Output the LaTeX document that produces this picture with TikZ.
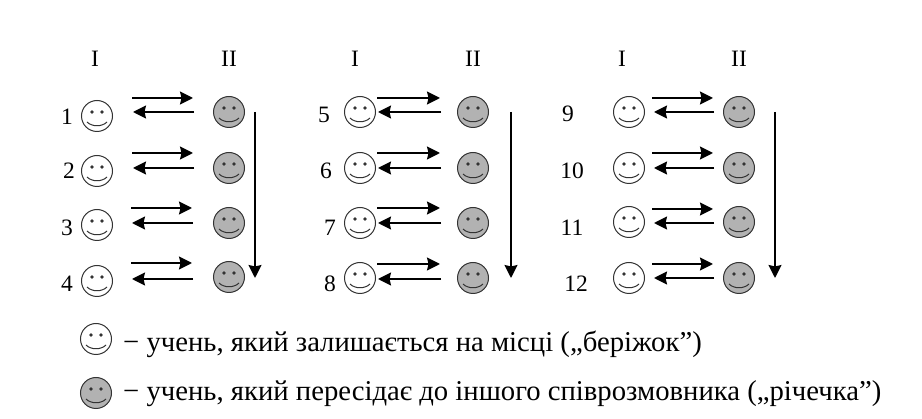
\documentclass[tikz,border=0pt]{standalone}
\usepackage{fontspec}
\setmainfont{Liberation Serif}
\usetikzlibrary{arrows.meta}

\tikzset{
	smile/.style={circle, draw=black!80, line width=1pt, minimum size=31pt, inner sep=0pt,
		path picture={
			\fill[black!80] ([shift={(-5pt,4pt)}]path picture bounding box.center) circle (1.8pt);
			\fill[black!80] ([shift={(5pt,4pt)}]path picture bounding box.center) circle (1.8pt);
			\draw[black!80, line width=1pt] ([shift={(-10pt,-6pt)}]path picture bounding box.center)
			.. controls +(5pt,-5pt) and +(-5pt,-5pt) .. ([shift={(10pt,-6pt)}]path picture bounding box.center);
		}},
	whiteface/.style={smile, fill=white},
	grayface/.style={smile, fill=black!30},
	flow/.style={->, line width=1.8pt},
	label/.style={font=\fontsize{23.5}{28}\selectfont, inner sep=0pt},
	legendtext/.style={font=\fontsize{28.7}{34}\selectfont, inner sep=0pt, anchor=base west}
}

\begin{document}
\begin{tikzpicture}[x=1pt, y=-1pt, >={Stealth[length=13pt,width=13pt,inset=1.5pt]}]
\useasboundingbox (0,0) rectangle (922,419);

%----------------------------
% Column headings
%----------------------------
\foreach \name/\x/\txt in {a/95/I,b/229/II,c/355/I,d/473/II,e/622/I,f/739/II}
	\node[label] (head\name) at (\x,59) {\txt};

%----------------------------
% Rows: number, white face, gray face, the two arrows
%----------------------------
\foreach \n/\nx/\ny/\wx/\wy/\gx/\gy/\ax/\bx/\cx/\dx/\ra/\rb in {
	1/67/117/97/116/229/112/132/193/133/194/98/112,
	2/69/171/97/171/229/168/132/193/133/194/153/168,
	3/67/228/97/225/229/223/131/192/132/193/208/223,
	4/67/284/97/281/229/277/131/192/132/193/263/279,
	5/324/115/360/112/473/112/377/440/378/441/98/112,
	6/326/171/360/168/473/168/377/440/378/441/153/168,
	7/330/228/360/223/473/223/377/440/378/441/208/223,
	8/330/284/360/278/473/278/377/440/378/441/264/279,
	9/568/114/629/112/739/112/652/713/654/714/98/112,
	10/572/171/629/168/739/168/652/713/654/714/153/168,
	11/572/228/629/222/739/222/652/713/654/714/209/223,
	12/576/284/629/278/739/278/652/713/654/714/264/278}
{
	\node[label] (num\n) at (\nx,\ny) {\n};
	\node[whiteface] (white\n) at (\wx,\wy) {};
	\node[grayface] (gray\n) at (\gx,\gy) {};
	% right and left arrow
	\coordinate (ra\n) at (\ax,\ra);
	\coordinate (rb\n) at (\bx,\ra);
	\coordinate (la\n) at (\dx,\rb);
	\coordinate (lb\n) at (\cx,\rb);
	\draw[flow] (ra\n) -- (rb\n);
	\draw[flow] (la\n) -- (lb\n);
}

%----------------------------
% Long arrows down
%----------------------------
\foreach \k/\x in {a/255,b/511,c/775}
{
	\coordinate (top\k) at (\x,112);
	\coordinate (end\k) at (\x,278);
	\draw[flow] (top\k) -- (end\k);
}

%----------------------------
% Legend
%----------------------------
\node[whiteface] (keywhite) at (96,339) {};
\node[grayface] (keygray) at (96,393) {};
\node[legendtext] (textwhite) at (123,352) {− учень, який залишається на місці („беріжок”)};
\node[legendtext] (textgray) at (123,401) {− учень, який пересідає до іншого співрозмовника („річечка”)};

\end{tikzpicture}
\end{document}
